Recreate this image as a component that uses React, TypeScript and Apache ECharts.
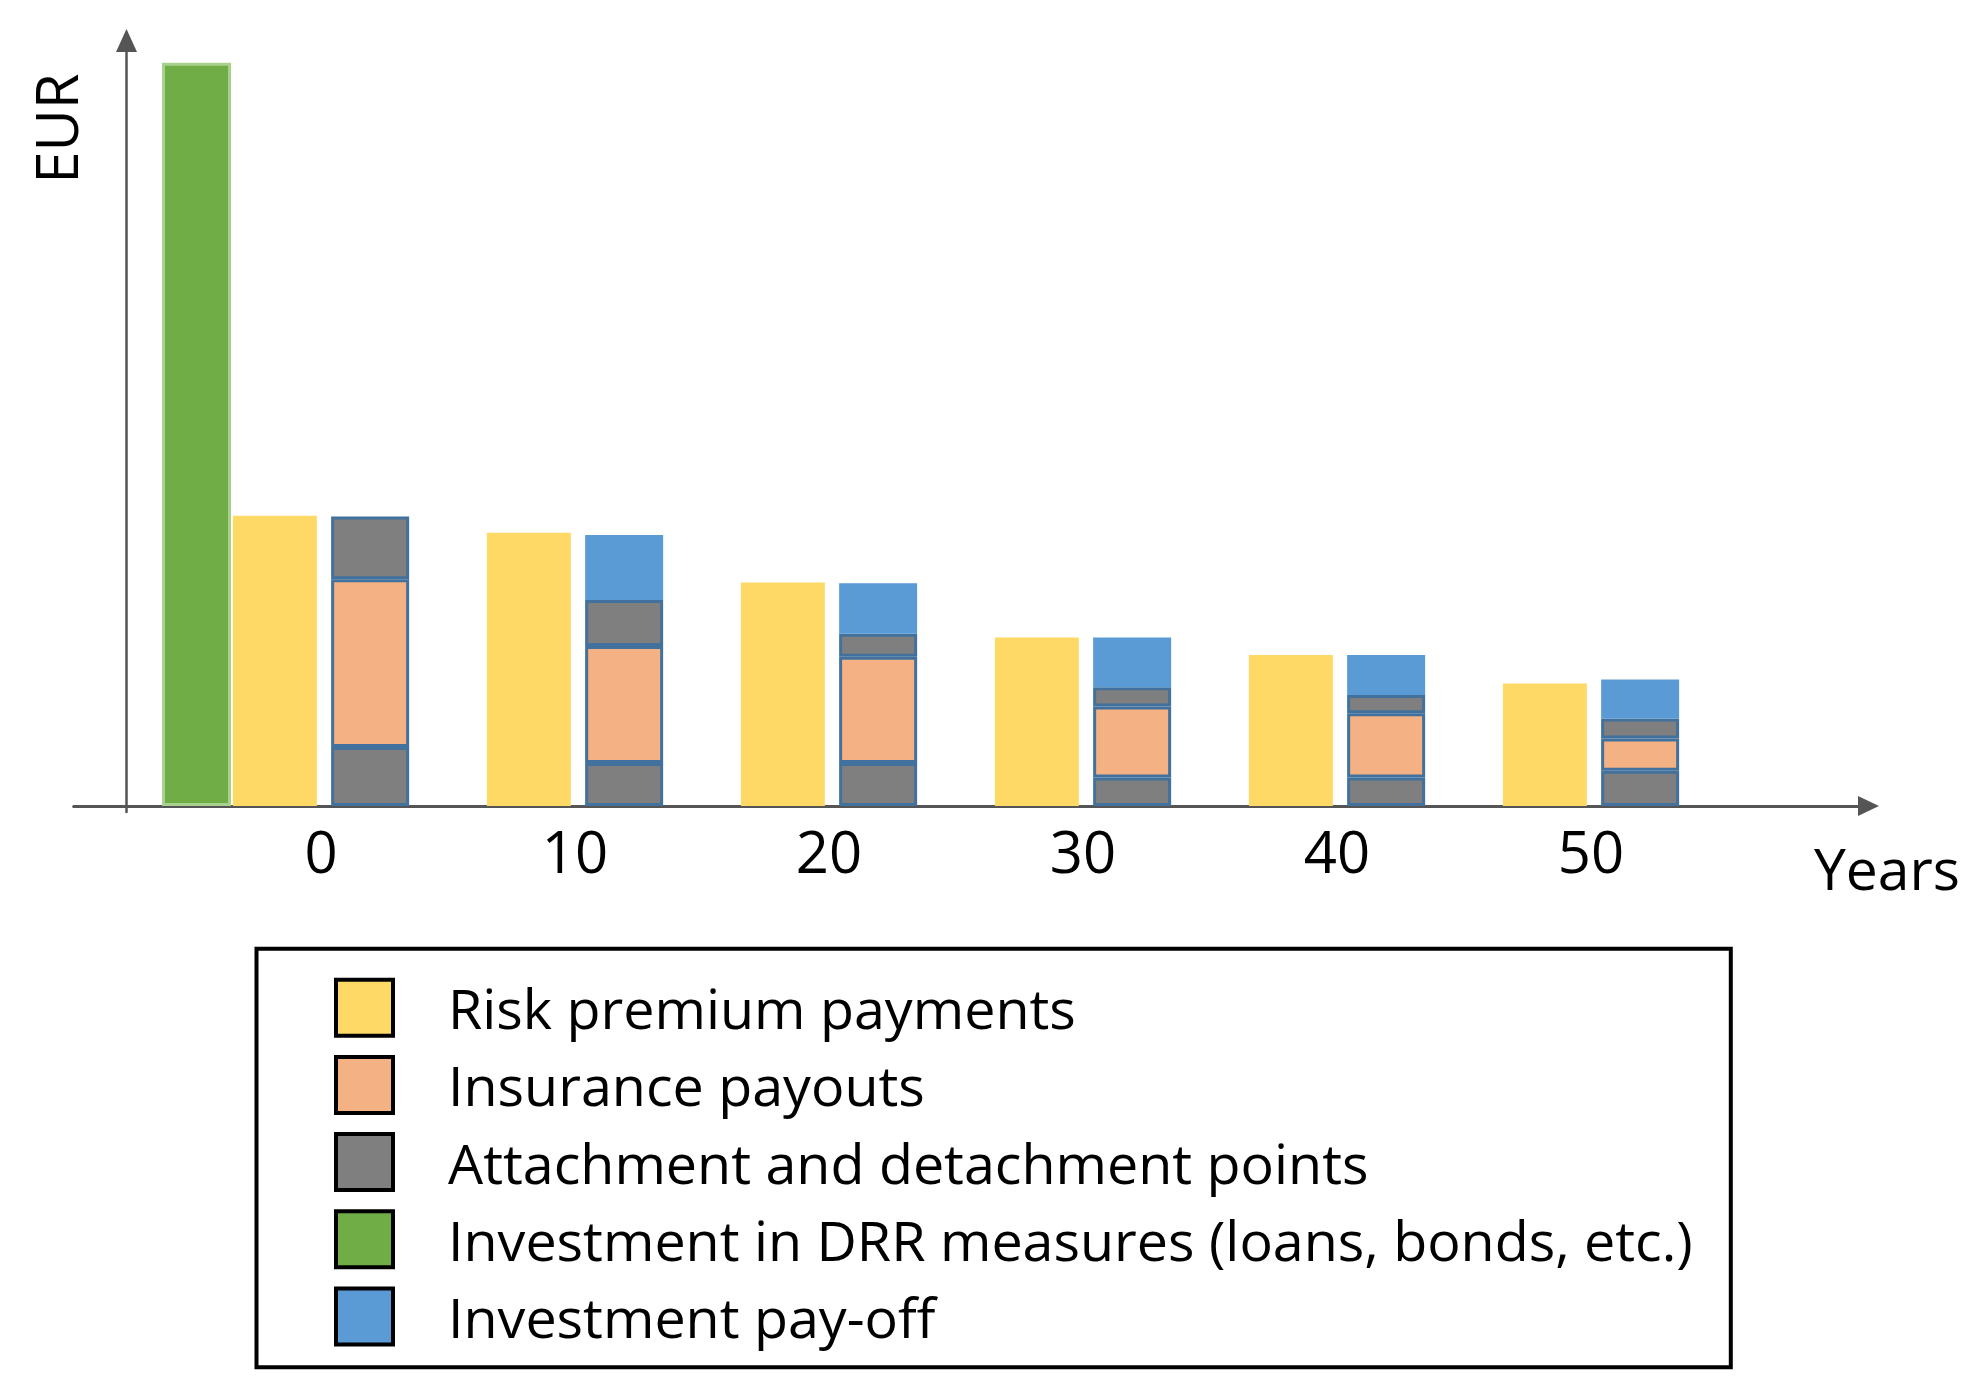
import React, { useEffect, useRef } from 'react';
import * as echarts from 'echarts';

// ---- data (EUR in relative units, axis top = 100) ----
const years = ['0', '10', '20', '30', '40', '50'];
const premiums = [37.9, 35.7, 29.2, 22.0, 19.7, 16.0];
const attachmentLow = [7.7, 5.6, 5.6, 3.7, 3.7, 4.6];
const payouts = [21.9, 15.3, 13.9, 9.3, 8.4, 4.2];
const detachmentHigh = [8.2, 6.0, 3.0, 2.5, 2.4, 2.6];
const payoff = [0, 8.5, 6.6, 6.5, 5.2, 5.1];
const investmentYear = [-4.9];
const investment = [97.1];

const NAMES = {
  premium: 'Risk premium payments',
  payout: 'Insurance payouts',
  attach: 'Attachment and detachment points',
  invest: 'Investment in DRR measures (loans, bonds, etc.)',
  payoff: 'Investment pay-off',
};

const FONT = 'Open Sans';

export default function App() {
  const ref = useRef<HTMLDivElement>(null);
  useEffect(() => {
    const chart = echarts.init(ref.current!, null, { renderer: 'svg' });
    const segBorder = { borderColor: '#41719C', borderWidth: 3 };
    // value axis carrying the drawn axis line: year 0 at x=321, 25.4 px per year
    const xMin = -9.736;
    const xMax = 60.93;
    const yMin = -0.8;
    const yMax = 100;
    const stackBar = { type: 'bar', xAxisIndex: 1, yAxisIndex: 1, stack: 'payout', barWidth: 78, barGap: '17%' };
    chart.setOption({
      animation: false,
      backgroundColor: '#fff',
      textStyle: { fontFamily: FONT },
      grid: [
        { left: 73.7, right: 106.5, top: 40.5, bottom: 582 },
        { left: 194, width: 1524, top: 40.5, bottom: 582 },
      ],
      xAxis: [
        {
          type: 'value',
          gridIndex: 0,
          min: xMin,
          max: xMax,
          axisLine: {
            show: true,
            onZero: true,
            symbol: ['none', 'triangle'],
            symbolSize: [20, 21],
            lineStyle: { color: '#555', width: 3 },
          },
          axisTick: { show: false },
          splitLine: { show: false },
          axisLabel: { show: false },
        },
        {
          type: 'category',
          gridIndex: 1,
          data: years,
          axisLine: { show: false, onZero: true },
          axisTick: { show: false },
          splitLine: { show: false },
          axisLabel: {
            margin: 9,
            fontSize: 58,
            color: '#000',
            fontFamily: FONT,
          },
        },
      ],
      yAxis: [
        {
          type: 'value',
          gridIndex: 0,
          min: yMin,
          max: yMax,
          position: 'left',
          offset: -52.8,
          axisLine: {
            show: true,
            onZero: false,
            symbol: ['none', 'triangle'],
            symbolSize: [21, 23],
            lineStyle: { color: '#555', width: 2.5 },
          },
          axisTick: { show: false },
          axisLabel: { show: false },
          splitLine: { show: false },
        },
        {
          type: 'value',
          gridIndex: 1,
          min: yMin,
          max: yMax,
          show: false,
          splitLine: { show: false },
        },
      ],
      legend: {
        orient: 'vertical',
        left: 334,
        top: 977.7,
        padding: 0,
        icon: 'rect',
        itemWidth: 57,
        itemHeight: 56,
        itemGap: 17.2,
        selectedMode: false,
        itemStyle: { borderColor: '#000', borderWidth: 4 },
        textStyle: {
          fontFamily: FONT,
          fontSize: 55.6,
          color: '#000',
          lineHeight: 56,
          padding: [0, 0, 0, 50],
        },
        data: [NAMES.premium, NAMES.payout, NAMES.attach, NAMES.invest, NAMES.payoff],
      },
      graphic: [
        {
          type: 'rect',
          shape: { x: 256.5, y: 948.7, width: 1474.3, height: 418.6 },
          style: { fill: 'none', stroke: '#000', lineWidth: 4 },
        },
        {
          type: 'text',
          x: 55,
          y: 128.5,
          rotation: Math.PI / 2,
          style: {
            text: 'EUR',
            fontSize: 58,
            fontFamily: FONT,
            fill: '#000',
            align: 'center',
            verticalAlign: 'middle',
          },
        },
        {
          type: 'text',
          x: 1814,
          y: 867.5,
          style: {
            text: 'Years',
            fontSize: 57,
            fontFamily: FONT,
            fill: '#000',
            align: 'left',
            verticalAlign: 'middle',
          },
        },
      ],
      series: [
        {
          name: NAMES.invest,
          type: 'bar',
          xAxisIndex: 0,
          yAxisIndex: 0,
          barWidth: 69,
          data: investmentYear.map((x, i) => [x, investment[i]]),
          itemStyle: { color: '#70AD47', borderColor: '#A9D18E', borderWidth: 3 },
        },
        {
          name: NAMES.premium,
          type: 'bar',
          xAxisIndex: 1,
          yAxisIndex: 1,
          barWidth: 84,
          barGap: '17%',
          data: premiums,
          itemStyle: { color: '#FFD966' },
        },
        {
          ...stackBar,
          name: NAMES.attach,
          data: attachmentLow,
          itemStyle: { color: '#7F7F7F', ...segBorder },
        },
        {
          ...stackBar,
          name: NAMES.payout,
          data: payouts,
          itemStyle: { color: '#F4B183', ...segBorder },
        },
        {
          ...stackBar,
          name: NAMES.attach,
          data: detachmentHigh,
          itemStyle: { color: '#7F7F7F', ...segBorder },
        },
        {
          ...stackBar,
          name: NAMES.payoff,
          data: payoff.map((v) => (v > 0 ? v : null)),
          itemStyle: { color: '#5B9BD5', borderColor: '#5B9BD5', borderWidth: 3 },
        },
      ],
    });
    return () => chart.dispose();
  }, []);
  return (
    <div
      ref={ref}
      style={{ position: 'fixed', left: 0, top: 0, width: 1975, height: 1394, background: '#fff' }}
    />
  );
}
